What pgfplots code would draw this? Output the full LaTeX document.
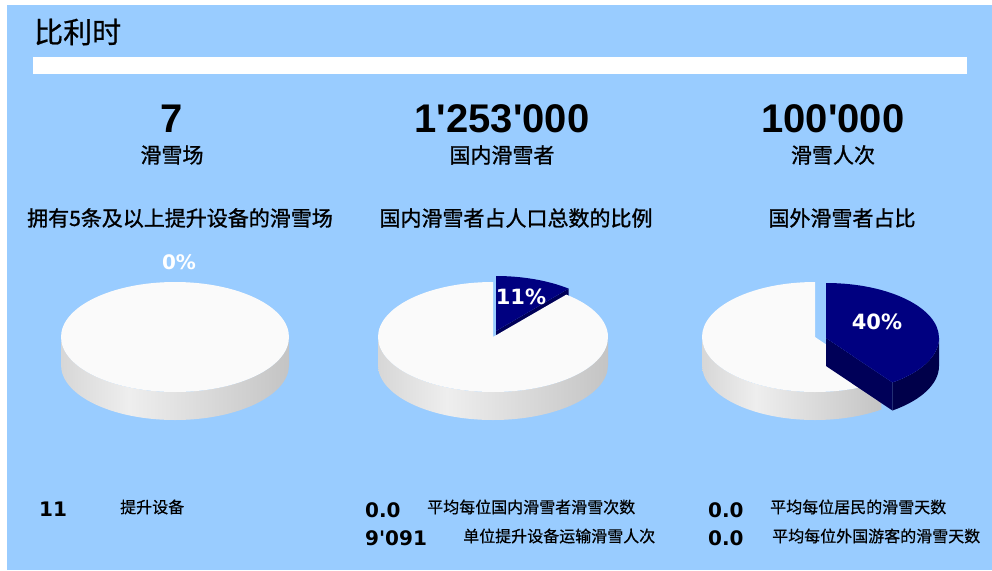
\documentclass[border=0pt]{standalone}
\usepackage{pgfplots}
\pgfplotsset{compat=1.18}
\usepackage{fontspec}
\setmainfont{DejaVu Sans}
\newfontfamily\cjk{Noto Sans CJK SC}
\newfontfamily\cjkb{Noto Sans CJK SC}[FakeBold=1.2]
\newfontfamily\cjkm{Noto Sans CJK SC}[FakeBold=0.6]
\newfontfamily\bignum{Liberation Sans}[Ligatures=TeXOff]
\newfontfamily\numf{DejaVu Sans}[Ligatures=TeXOff]
\definecolor{bg}{HTML}{99CCFF}
\definecolor{navy}{HTML}{000080}
\definecolor{navyside}{HTML}{00004A}
\definecolor{navyface}{HTML}{000058}
\definecolor{pietop}{HTML}{FAFAFA}
\definecolor{sideA}{HTML}{B0B0B0}
\definecolor{sideB}{HTML}{EEEEEE}
\definecolor{sideC}{HTML}{C4C4C4}
\definecolor{sideD}{HTML}{808080}
\pgfdeclarehorizontalshading{pieside}{100bp}{color(0bp)=(sideA); color(40bp)=(sideB); color(75bp)=(sideC); color(100bp)=(sideD)}
% shares of the blue slice (percent)
\def\shareA{0}
\def\shareB{11}
\def\shareC{40}
\begin{document}
\begin{tikzpicture}
\begin{axis}[width=992pt,height=570pt,scale only axis,
  xmin=0,xmax=992,ymin=0,ymax=570,y dir=reverse,hide axis,clip=false]
% background
\fill[white] (axis cs:0,0) rectangle (axis cs:992,570);
\fill[bg] (axis cs:7,5) rectangle (axis cs:992,570);
\fill[white] (axis cs:33,57) rectangle (axis cs:967,74);
% title
\node[anchor=west,font=\cjkm\fontsize{29}{32}\selectfont,inner sep=0pt] at (axis cs:34,32) {比利时};
% headline numbers
\node[font=\bignum\bfseries\fontsize{40}{42}\selectfont,inner sep=0pt] at (axis cs:172,119) {7};
\node[font=\bignum\bfseries\fontsize{40}{42}\selectfont,inner sep=0pt] at (axis cs:502,119) {1'253'000};
\node[font=\bignum\bfseries\fontsize{40}{42}\selectfont,inner sep=0pt] at (axis cs:833,119) {100'000};
\node[font=\cjkb\fontsize{21}{24}\selectfont,inner sep=0pt] at (axis cs:172,155) {滑雪场};
\node[font=\cjkb\fontsize{21}{24}\selectfont,inner sep=0pt] at (axis cs:502,155) {国内滑雪者};
\node[font=\cjkb\fontsize{21}{24}\selectfont,inner sep=0pt] at (axis cs:833,155) {滑雪人次};
% subtitles
\node[font=\cjkb\fontsize{21}{24}\selectfont,inner sep=0pt] at (axis cs:180,218) {拥有5条及以上提升设备的滑雪场};
\node[font=\cjkb\fontsize{21}{24}\selectfont,inner sep=0pt] at (axis cs:516,218) {国内滑雪者占人口总数的比例};
\node[font=\cjkb\fontsize{21}{24}\selectfont,inner sep=0pt] at (axis cs:842,218) {国外滑雪者占比};
% ---------- pie 1 (0%) ----------
\shade[shading=pieside] (axis cs:175,337) ++(180:114pt and 55pt) -- ++(0pt,-28pt)
  arc[start angle=180,end angle=360,x radius=114pt,y radius=55pt] -- ++(0pt,28pt)
  arc[start angle=360,end angle=180,x radius=114pt,y radius=55pt] -- cycle;
\fill[pietop] (axis cs:175,337) ellipse[x radius=114pt,y radius=55pt];
\node[font=\numf\bfseries\fontsize{20}{22}\selectfont,text=white,inner sep=0pt] at (axis cs:179,262) {\shareA\%};
% ---------- pie 2 (11%) ----------
\pgfmathsetmacro\eB{90-3.6*\shareB}
\pgfmathsetmacro\wB{360+\eB}
\fill[navyface] (axis cs:496,331) -- ++(\eB:114pt and 55pt) -- ++(0pt,-28pt) -- ++(\eB+180:114pt and 55pt) -- cycle;
\fill[navy] (axis cs:496,331) -- ++(90:114pt and 55pt)
  arc[start angle=90,end angle=\eB,x radius=114pt,y radius=55pt] -- cycle;
\shade[shading=pieside] (axis cs:493,337) ++(180:115pt and 55pt) -- ++(0pt,-28pt)
  arc[start angle=180,end angle=360,x radius=115pt,y radius=55pt] -- ++(0pt,28pt)
  arc[start angle=360,end angle=180,x radius=115pt,y radius=55pt] -- cycle;
\fill[pietop] (axis cs:493,337) -- ++(90:115pt and 55pt)
  arc[start angle=90,end angle=\wB,x radius=115pt,y radius=55pt] -- cycle;
\node[font=\numf\bfseries\fontsize{21}{22}\selectfont,text=white,inner sep=0pt] at (axis cs:521,297) {\shareB\%};
% ---------- pie 3 (40%) ----------
\pgfmathsetmacro\eC{90-3.6*\shareC}
\pgfmathsetmacro\wC{360+\eC}
\shade[shading=pieside] (axis cs:815,337) ++(180:113pt and 55pt) -- ++(0pt,-28pt)
  arc[start angle=180,end angle=\wC,x radius=113pt,y radius=55pt] -- ++(0pt,28pt)
  arc[start angle=\wC,end angle=180,x radius=113pt,y radius=55pt] -- cycle;
\fill[pietop] (axis cs:815,337) -- ++(90:113pt and 55pt)
  arc[start angle=90,end angle=\wC,x radius=113pt,y radius=55pt] -- cycle;
\fill[navyface] (axis cs:826,338) -- ++(\eC:113pt and 55pt) -- ++(0pt,-28pt) -- ++(\eC+180:113pt and 55pt) -- cycle;
\fill[navyside] (axis cs:826,338) ++(\eC:113pt and 55pt) -- ++(0pt,-28pt)
  arc[start angle=\eC,end angle=0,x radius=113pt,y radius=55pt] -- ++(0pt,28pt)
  arc[start angle=0,end angle=\eC,x radius=113pt,y radius=55pt] -- cycle;
\fill[navy] (axis cs:826,338) -- ++(90:113pt and 55pt)
  arc[start angle=90,end angle=\eC,x radius=113pt,y radius=55pt] -- cycle;
\node[font=\numf\bfseries\fontsize{21}{22}\selectfont,text=white,inner sep=0pt] at (axis cs:877,322) {\shareC\%};
% ---------- bottom figures ----------
\node[anchor=west,font=\numf\bfseries\fontsize{20}{22}\selectfont,inner sep=0pt] at (axis cs:39,509) {11};
\node[anchor=west,font=\cjkm\fontsize{16}{18}\selectfont,inner sep=0pt] at (axis cs:120,507) {提升设备};
\node[anchor=west,font=\numf\bfseries\fontsize{20}{22}\selectfont,inner sep=0pt] at (axis cs:365,510) {0.0};
\node[anchor=west,font=\cjkm\fontsize{16}{18}\selectfont,inner sep=0pt] at (axis cs:427,507) {平均每位国内滑雪者滑雪次数};
\node[anchor=west,font=\numf\bfseries\fontsize{20}{22}\selectfont,inner sep=0pt] at (axis cs:365,538) {9'091};
\node[anchor=west,font=\cjkm\fontsize{16}{18}\selectfont,inner sep=0pt] at (axis cs:463,536) {单位提升设备运输滑雪人次};
\node[anchor=west,font=\numf\bfseries\fontsize{20}{22}\selectfont,inner sep=0pt] at (axis cs:708,510) {0.0};
\node[anchor=west,font=\cjkm\fontsize{16}{18}\selectfont,inner sep=0pt] at (axis cs:770,507) {平均每位居民的滑雪天数};
\node[anchor=west,font=\numf\bfseries\fontsize{20}{22}\selectfont,inner sep=0pt] at (axis cs:708,538) {0.0};
\node[anchor=west,font=\cjkm\fontsize{16}{18}\selectfont,inner sep=0pt] at (axis cs:772,536) {平均每位外国游客的滑雪天数};
\end{axis}
\end{tikzpicture}
\end{document}
